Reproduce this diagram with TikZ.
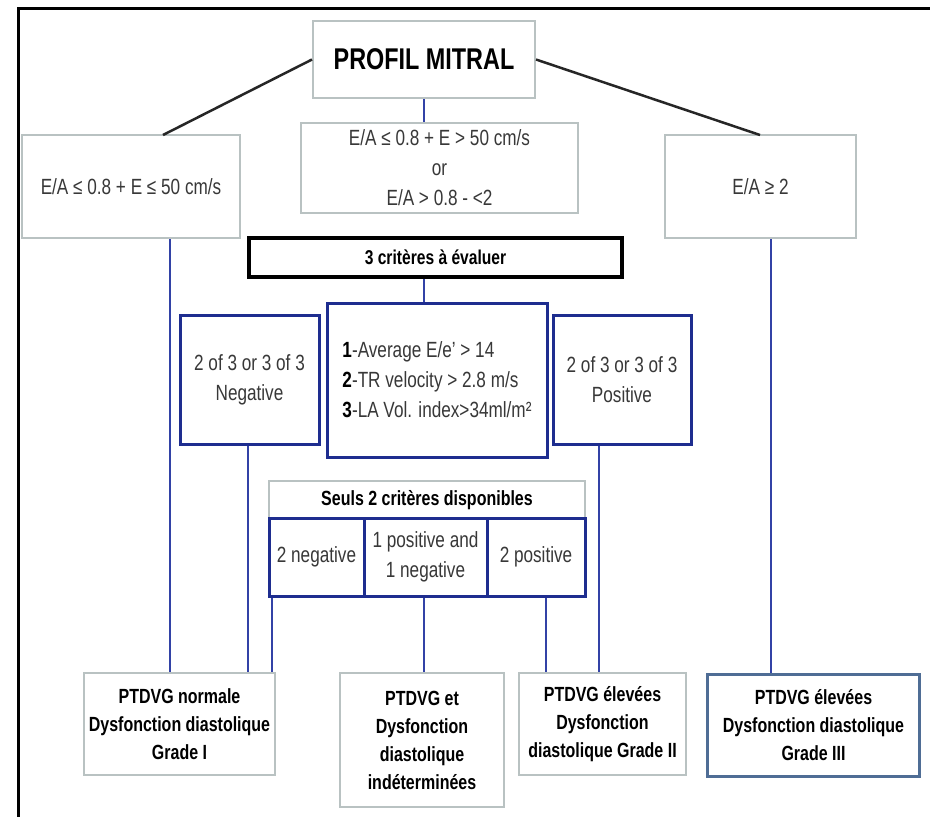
\documentclass[tikz,border=0pt]{standalone}
\usepackage{fontspec}
\setmainfont{Liberation Sans}[FakeStretch=0.78]
\definecolor{gboxc}{HTML}{B9C2C2}
\definecolor{gtext}{HTML}{383838}
\definecolor{bluec}{HTML}{1E2D8F}
\definecolor{linec}{HTML}{3242A6}
\definecolor{steelc}{HTML}{4F6D95}
\tikzset{
  basebox/.style={inner sep=0pt, fill=white, align=center, font=\fontsize{22}{30}\selectfont},
  graybox/.style={basebox, draw=gboxc, line width=2pt, text=gtext},
  bluebox/.style={basebox, draw=bluec, line width=3pt, text=gtext},
  resbox/.style={basebox, draw=gboxc, line width=2pt, text=black, font=\fontsize{20.5}{28}\selectfont\bfseries},
  bline/.style={draw=linec, line width=2pt},
  kline/.style={draw=black!85, line width=2.5pt},
}
\begin{document}
\begin{tikzpicture}[x=1pt,y=-1pt]
\useasboundingbox (0,0) rectangle (930,817);
\fill[white] (0,0) rectangle (930,817);
% frame
\draw[black, line width=3pt] (18,817) -- (18,8) -- (930,8);

% top
\node[graybox, minimum width=222pt, minimum height=77pt, text=black, font=\fontsize{30}{32}\selectfont\bfseries] (pm) at (424,59.5) {PROFIL MITRAL};
\node[graybox, minimum width=218pt, minimum height=103pt] (ea1) at (131,186.5) {E/A ≤ 0.8 + E ≤ 50 cm/s};
\node[graybox, minimum width=277pt, minimum height=90pt] (ea2) at (439.5,168) {E/A ≤ 0.8 + E > 50 cm/s\\or\\E/A > 0.8 - <2};
\node[graybox, minimum width=191pt, minimum height=103pt] (ea3) at (760.5,186.5) {E/A ≥ 2};
\node[basebox, draw=black, line width=4pt, minimum width=373pt, minimum height=39pt, font=\fontsize{20}{22}\selectfont\bfseries] (c3) at (435.5,257.5) {3 critères à évaluer};

% middle
\node[bluebox, minimum width=139pt, minimum height=129pt] (neg) at (249.5,379.5) {2 of 3 or 3 of 3\\Negative};
\node[bluebox, minimum width=220pt, minimum height=154pt, align=left] (crit) at (437,380) {\textcolor{black}{\bfseries 1}-Average E/e' > 14\\\textcolor{black}{\bfseries 2}-TR velocity > 2.8 m/s\\\textcolor{black}{\bfseries 3}-LA Vol. index>34ml/m²};
\node[bluebox, minimum width=138pt, minimum height=129pt] (pos) at (622,379.5) {2 of 3 or 3 of 3\\Positive};

% seuls
\node[graybox, minimum width=316pt, minimum height=38pt, text=black, font=\fontsize{20.5}{24}\selectfont\bfseries] (seuls) at (427,500) {Seuls 2 critères disponibles};
\node[bluebox, minimum width=95pt, minimum height=78pt] (s1) at (316.5,557) {2 negative};
\node[bluebox, minimum width=123pt, minimum height=78pt] (s2) at (425.5,557) {1 positive and\\1 negative};
\node[bluebox, minimum width=98pt, minimum height=78pt] (s3) at (536,557) {2 positive};

% results
\node[resbox, minimum width=191pt, minimum height=102pt] (r1) at (179.5,724) {PTDVG normale\\Dysfonction diastolique\\Grade I};
\node[resbox, minimum width=164pt, minimum height=134pt] (r2) at (422,740) {PTDVG et\\Dysfonction\\diastolique\\indéterminées};
\node[resbox, minimum width=167pt, minimum height=102pt] (r3) at (602.5,724) {PTDVG élevées\\Dysfonction\\diastolique Grade II};
\node[resbox, draw=steelc, line width=3pt, minimum width=212pt, minimum height=102pt] (r4) at (813.5,725.5) {PTDVG élevées\\Dysfonction diastolique\\Grade III};

% connectors
\coordinate (ea1top) at (163,135);
\coordinate (ea3top) at (760,135);
\draw[kline] (pm.west) -- (ea1top);
\draw[kline] (pm.east) -- (ea3top);
\draw[bline] (pm.south) -- (pm.south |- ea2.north);
\draw[bline] ([xshift=39pt]ea1.south) -- ([xshift=39pt]ea1.south |- r1.north);
\draw[bline] ([xshift=10pt]ea3.south) -- ([xshift=10pt]ea3.south |- r4.north);
\draw[bline] ([xshift=-12pt]c3.south) -- ([xshift=-12pt]c3.south |- crit.north);
\draw[bline] ([xshift=-1.5pt]neg.south) -- ([xshift=-1.5pt]neg.south |- r1.north);
\draw[bline] ([xshift=-23pt]pos.south) -- ([xshift=-23pt]pos.south |- r3.north);
\draw[bline] ([xshift=-44.5pt]s1.south) -- ([xshift=-44.5pt]s1.south |- r1.north);
\draw[bline] ([xshift=-1.5pt]s2.south) -- ([xshift=-1.5pt]s2.south |- r2.north);
\draw[bline] ([xshift=10pt]s3.south) -- ([xshift=10pt]s3.south |- r3.north);
\end{tikzpicture}
\end{document}
